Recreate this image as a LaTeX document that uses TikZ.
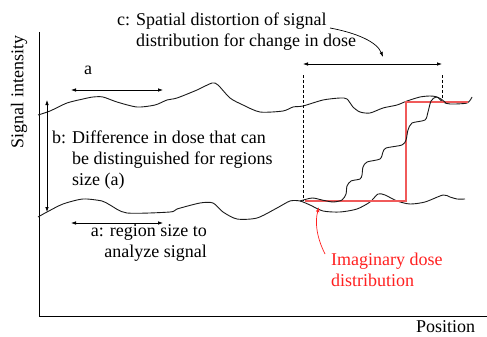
\documentclass[tikz,border=0pt]{standalone}
\usepackage{fontspec}
\newfontfamily\plotfont{Liberation Serif}
\usetikzlibrary{arrows.meta}
\definecolor{CurveBlack}{HTML}{1A1A1A}
\definecolor{DoseRed}{HTML}{F05A5A}
\definecolor{NoteRed}{HTML}{FF2020}
\tikzset{
  axisline/.style={line width=0.9pt,draw=black},
  signal/.style={line width=0.9pt,draw=CurveBlack,line join=round},
  span/.style={{Latex[length=5pt,width=3.6pt]}-{Latex[length=5pt,width=3.6pt]},line width=0.8pt},
  pointer/.style={-{Latex[length=5pt,width=3.6pt]},line width=0.7pt},
  guide/.style={dash pattern=on 3pt off 2pt,line width=0.8pt},
  stepline/.style={draw=DoseRed,line width=1.4pt},
  plotlabel/.style={font={\fontsize{18}{21}\plotfont},inner sep=0pt,align=left},
  redlabel/.style={plotlabel,text=NoteRed}
}
\begin{document}
\begin{tikzpicture}[x=1pt,y=-1pt]
  \useasboundingbox (0,0) rectangle (487,337);

  % Axes and axis titles.
  \draw[axisline] (39,32) -- (39,316) -- (487,316);
  \node[plotlabel,rotate=90] (ylab) at (19,92) {Signal intensity};
  \node[plotlabel,anchor=base west] (xlab) at (416,332) {Position};

  % Upper and lower signal curves.
  \draw[signal] plot[smooth,tension=0.45] coordinates {
    (38,115) (50,111) (67,103) (83,99) (93,97) (103,97) (117,102) (137,107)
    (155,105) (167,100) (177,98) (197,90) (212,83) (218,85) (230,98) (243,105)
    (260,112) (283,111) (293,107) (303,106) (323,100) (340,98) (347,99)
    (353,107) (360,112) (370,113) (383,108) (397,105) (407,101) (420,97)
    (430,96) (437,97) (443,102) (450,104) (467,103) (472,97)};
  \draw[signal] plot[smooth,tension=0.45] coordinates {
    (38,217) (47,212) (63,204) (83,199) (102,201) (110,205) (127,213)
    (170,212) (177,209) (200,203) (213,203) (223,212) (237,219) (257,218)
    (277,208) (290,201) (300,201) (310,205) (323,211) (340,212) (357,209)
    (370,202) (378,194) (385,195) (397,201) (410,204) (425,202) (443,195)
    (450,197) (457,199) (465,199)};

  % Imaginary dose distribution and distorted response.
  \draw[stepline] (305,201) -- (406,201) -- (406,102) -- (468,102);
  \draw[signal] plot[smooth,tension=0.45] coordinates {
    (300,201) (312,198) (322,200) (333,202) (342,200) (346,194) (347,186)
    (351,181) (360,179) (362,175) (363,167) (367,162) (380,159) (383,152)
    (386,148) (402,145) (406,140) (408,130) (412,123) (425,120) (428,112)
    (431,101) (436,97) (441,99) (446,103)};

  % Dashed guides of the distortion width.
  \coordinate (cL) at (303,64);
  \coordinate (cR) at (442,64);
  \draw[guide] (303,75) -- (303,201);
  \draw[guide] (442,75) -- (442,99);
  \draw[span] (cL) -- (cR);

  % Region size a and dose difference b.
  \coordinate (aTopL) at (71,90);
  \coordinate (aTopR) at (163,90);
  \coordinate (aBotL) at (71,223);
  \coordinate (aBotR) at (163,223);
  \coordinate (bTop) at (47,100);
  \coordinate (bBot) at (47,212);
  \draw[span] (aTopL) -- (aTopR);
  \draw[span] (aBotL) -- (aBotR);
  \draw[span] (bTop) -- (bBot);

  % Labels.
  \node[plotlabel] (alab) at (88,70) {a};
  \node[plotlabel,anchor=west] (clab) at (117,31.5)
    {c: Spatial distortion of signal\\\phantom{c: }distribution for change in dose};
  \node[plotlabel,anchor=west] (blab) at (52,160)
    {b: Difference in dose that can\\\phantom{b: }be distinguished for regions\\\phantom{b: }size (a)};
  \node[plotlabel,anchor=east,align=right] (rlab) at (207,243)
    {a: region size to\\analyze signal};
  \node[redlabel,anchor=west] (imag) at (331,270)
    {Imaginary dose\\distribution};

  % Pointers from the labels.
  \coordinate (cFrom) at (330,28);
  \coordinate (cTo) at (383,57);
  \draw[pointer] (cFrom) .. controls (357,33) and (377,42) .. (cTo);
  \coordinate (rFrom) at (325,254);
  \coordinate (rTo) at (319,207);
  \draw[pointer,draw=NoteRed] (rFrom) .. controls (316,236) and (315,221) .. (rTo);
\end{tikzpicture}
\end{document}
